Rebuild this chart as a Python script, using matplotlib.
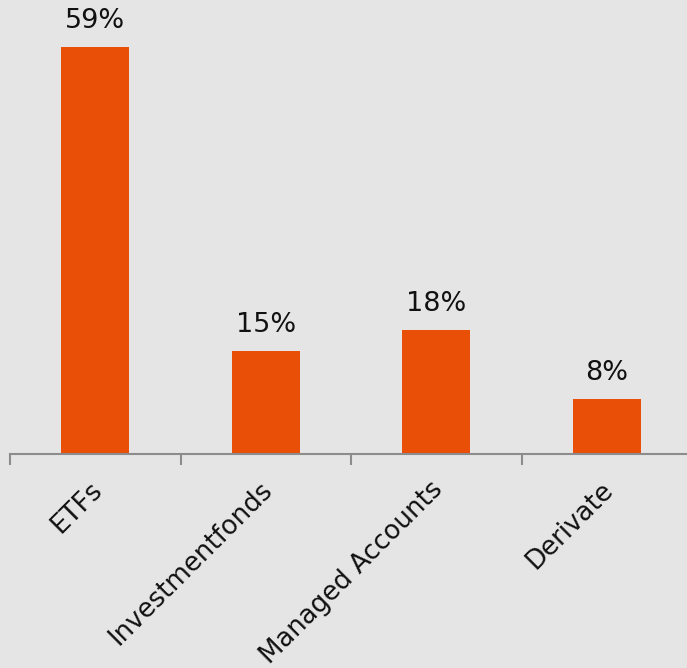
import matplotlib
matplotlib.use("Agg")
import matplotlib.pyplot as plt
from matplotlib.transforms import ScaledTranslation

categories = ["ETFs", "Investmentfonds", "Managed Accounts", "Derivate"]
values = [59, 15, 18, 8]
value_labels = ["59%", "15%", "18%", "8%"]

bg = "#e5e5e5"
bar_col = "#ea4f07"
axis_col = "#8c8c8c"

fig = plt.figure(figsize=(6.87, 6.68), dpi=100, facecolor=bg)
# achse geht rechts leicht über den rand hinaus
ax = fig.add_axes([10 / 687, 214 / 668, 682 / 687, 454 / 668])
ax.set_facecolor(bg)

x = range(len(categories))
ax.bar(x, values, width=0.4, color=bar_col, zorder=2)

for xi, v, lab in zip(x, values, value_labels):
    ax.annotate(lab, (xi, v), xytext=(0, 9), textcoords="offset points",
                ha="center", va="bottom", fontsize=19.5, color="#111111")

ax.set_xlim(-0.5, 3.5)
ax.set_ylim(0, 454 / 6.9)

for s in ["top", "right", "left"]:
    ax.spines[s].set_visible(False)
ax.spines["bottom"].set_color(axis_col)
ax.spines["bottom"].set_linewidth(1.5)

ax.set_yticks([])
ax.set_xticks([-0.5, 0.5, 1.5, 2.5, 3.5])
ax.set_xticklabels([])
ax.tick_params(axis="x", length=8, width=1.5, color=axis_col)

ax.set_xticks(list(x), minor=True)
ax.set_xticklabels(categories, minor=True, rotation=45, ha="right",
                   rotation_mode="anchor", fontsize=18.7, color="#111111")
ax.tick_params(axis="x", which="minor", length=0, pad=12)
# labels etwas diagonal nach links unten schieben
shift = ScaledTranslation(-6 / 100, -6 / 100, fig.dpi_scale_trans)
for lbl in ax.get_xticklabels(minor=True):
    lbl.set_transform(lbl.get_transform() + shift)

fig.savefig("out.png", dpi=100, facecolor=bg)
